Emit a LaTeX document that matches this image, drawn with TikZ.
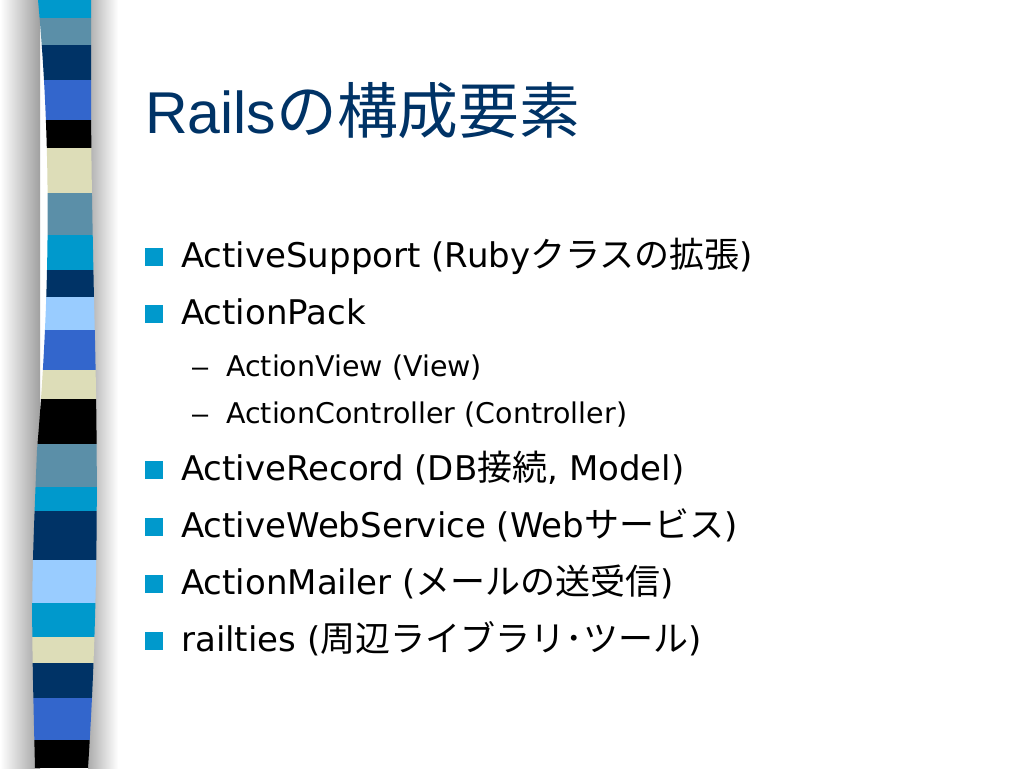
\documentclass[tikz,border=0pt]{standalone}
\usepackage{fontspec}
\setmainfont{DejaVu Sans}
\newfontfamily\titlefont{Liberation Sans}
\newfontfamily\jp[Scale=1.03]{Noto Sans CJK JP}
\definecolor{titleblue}{HTML}{003366}
\definecolor{bulletblue}{HTML}{0099CC}
\definecolor{stcyan}{HTML}{0099CC}
\definecolor{ststeel}{HTML}{5B8FA8}
\definecolor{stnavy}{HTML}{003366}
\definecolor{stroyal}{HTML}{3366CC}
\definecolor{stcream}{HTML}{DDDDB8}
\definecolor{stlight}{HTML}{99CCFF}
\tikzset{
  item/.style={anchor=base west, inner sep=0pt, font=\fontsize{34}{34}\selectfont},
  subitem/.style={anchor=base west, inner sep=0pt, font=\fontsize{28.5}{28.5}\selectfont},
  bullet/.style={fill=bulletblue, draw=none}
}
\begin{document}
\begin{tikzpicture}[x=1pt, y=-1pt]
\useasboundingbox (0,0) rectangle (1024,768);
\fill[white] (0,0) rectangle (1024,768);
% shadow of the stripe
\shade[left color=white, right color=gray!75] (0,0) rectangle (40,768);
\shade[left color=gray!65, right color=white] (88,0) rectangle (118,768);
% stripe
\begin{scope}
\clip (38,0) .. controls (52,150) and (50,300) .. (37,450)
  .. controls (31,600) .. (35,768) -- (88,768)
  .. controls (99,600) and (98,450) .. (94,300)
  .. controls (91,150) .. (91,0) -- cycle;
\foreach \ya/\yb/\c in {0/18/stcyan, 18/45/ststeel, 45/80/stnavy, 80/120/stroyal,
  120/148/black, 148/193/stcream, 193/235/ststeel, 235/270/stcyan, 270/297/stnavy,
  297/330/stlight, 330/370/stroyal, 370/399/stcream, 399/444/black, 444/487/ststeel,
  487/511/stcyan, 511/560/stnavy, 560/603/stlight, 603/637/stcyan, 637/663/stcream,
  663/698/stnavy, 698/740/stroyal, 740/768/black}
  \fill[\c] (20,\ya) rectangle (110,\yb);
\end{scope}

\node[anchor=base west, inner sep=0pt, titleblue, font=\titlefont\fontsize{59}{59}\selectfont]
  (title) at (145,133) {Rails{\jp の構成要素}};

\foreach \yy in {267,324,480,537,594,651}
  \fill[bullet] (145,\yy-19) rectangle (163,\yy-1);

\node[item] (support) at (181,267) {ActiveSupport (Ruby{\jp クラスの拡張})};
\node[item] (pack) at (181,324) {ActionPack};
\node[subitem, font=\titlefont\fontsize{29}{29}\selectfont] (dash1) at (192,376) {–};
\node[subitem] (view) at (226,376) {ActionView (View)};
\node[subitem, font=\titlefont\fontsize{29}{29}\selectfont] (dash2) at (192,423) {–};
\node[subitem] (controller) at (226,423) {ActionController (Controller)};
\node[item] (record) at (181,480) {ActiveRecord (DB{\jp 接続}, Model)};
\node[item] (webservice) at (181,537) {ActiveWebService (Web{\jp サービス})};
\node[item] (mailer) at (181,594) {ActionMailer ({\jp メールの送受信})};
\node[item] (railties) at (181,651) {railties ({\jp 周辺ライブラリ･ツール})};
\end{tikzpicture}
\end{document}
